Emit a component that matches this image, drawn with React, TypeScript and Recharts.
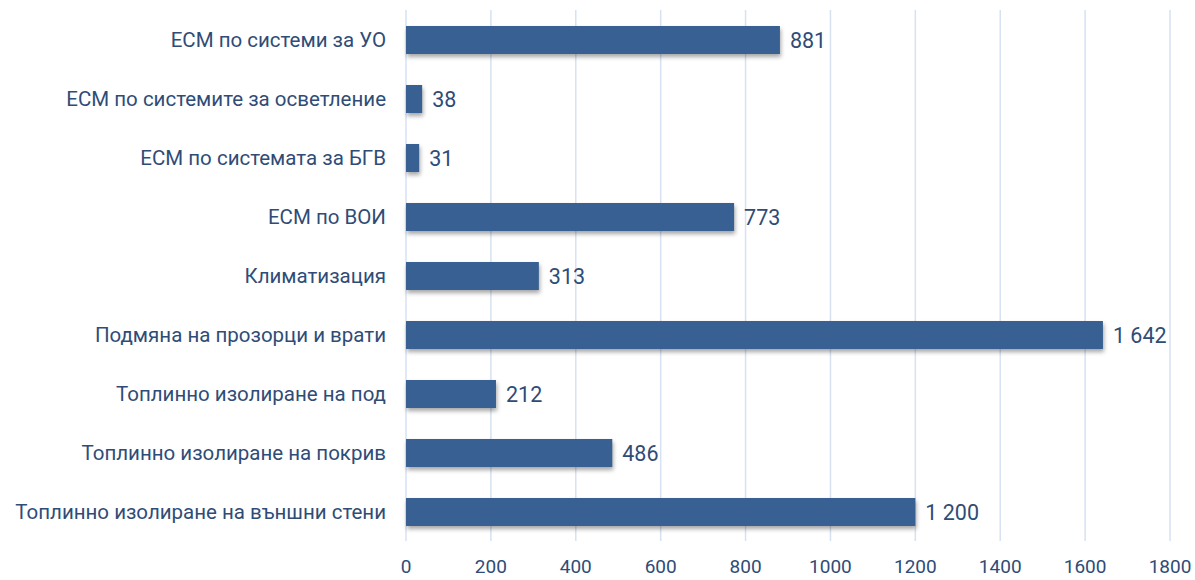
import React from "react";
import { BarChart, Bar, XAxis, YAxis, CartesianGrid, LabelList } from "recharts";

const categories = [
  "ЕСМ по системи за УО",
  "ЕСМ по системите за осветление",
  "ЕСМ по системата за БГВ",
  "ЕСМ по ВОИ",
  "Климатизация",
  "Подмяна на прозорци и врати",
  "Топлинно изолиране на под",
  "Топлинно изолиране на покрив",
  "Топлинно изолиране на външни стени",
];
const values = [881, 38, 31, 773, 313, 1642, 212, 486, 1200];
const xTicks = [0, 200, 400, 600, 800, 1000, 1200, 1400, 1600, 1800];

const data = categories.map((name, i) => ({ name, value: values[i] }));

const BAR = "#386092";
const TEXT = "#2F4C77";
const GRID = "#D6E2F2";
const FONT = "Roboto, 'Noto Sans', sans-serif";

function fmt(v: number): string {
  return String(v).replace(/\B(?=(\d{3})+(?!\d))/g, " ");
}

// eslint-disable-next-line @typescript-eslint/no-explicit-any
const ShadowBar = (props: any) => {
  const { x, y, width, height } = props;
  return (
    <rect
      x={x}
      y={y}
      width={width}
      height={height}
      fill={BAR}
      style={{ filter: "drop-shadow(1px 3px 2px rgba(0,0,0,0.35))" }}
    />
  );
};

export default function App() {
  return (
    <div style={{ position: "absolute", left: 0, top: 0, width: 1195, height: 580, background: "#fff" }}>
      <BarChart
        width={1195}
        height={580}
        data={data}
        layout="vertical"
        margin={{ top: 10, right: 25, bottom: 0, left: 0 }}
      >
        <CartesianGrid horizontal={false} stroke={GRID} strokeWidth={1.5} />
        <XAxis
          type="number"
          domain={[0, 1800]}
          ticks={xTicks}
          interval={0}
          tickLine={false}
          axisLine={false}
          height={39}
          tickMargin={13}
          tick={{ fill: TEXT, fontSize: 19, fontFamily: FONT }}
        />
        <YAxis
          type="category"
          dataKey="name"
          width={406}
          tickLine={false}
          axisLine={false}
          tickMargin={14}
          tick={{ fill: TEXT, fontSize: 20.5, fontFamily: FONT }}
        />
        <Bar dataKey="value" barSize={28} shape={ShadowBar} isAnimationActive={false}>
          <LabelList
            dataKey="value"
            position="right"
            offset={10}
            formatter={(v: number) => fmt(v)}
            style={{ fill: TEXT, fontSize: 21.5, fontFamily: FONT }}
          />
        </Bar>
      </BarChart>
    </div>
  );
}
